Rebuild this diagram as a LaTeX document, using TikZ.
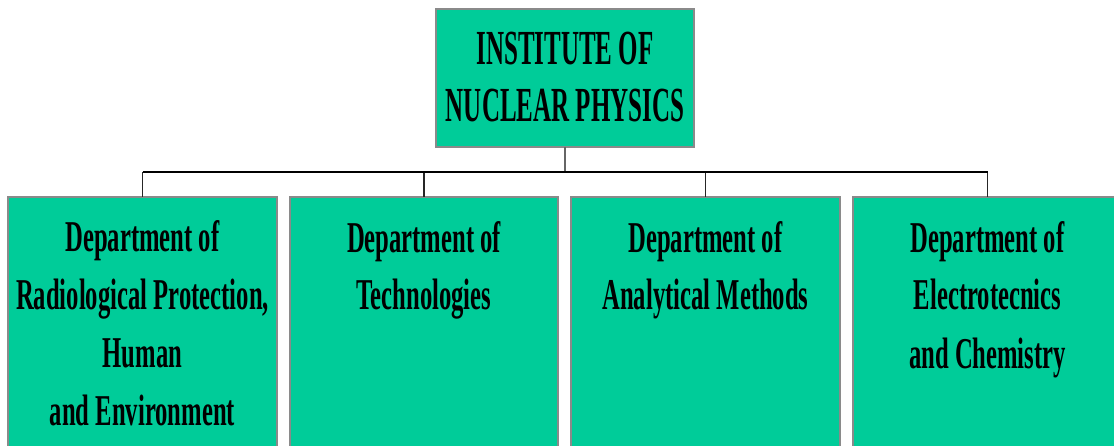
\documentclass[tikz,border=0pt]{standalone}
\usepackage{fontspec}
\newfontfamily\condfont[FakeStretch=0.56]{Liberation Serif}
\newfontfamily\condtopfont[FakeStretch=0.51]{Liberation Serif}
\definecolor{boxfill}{HTML}{00CC99}
\definecolor{boxline}{HTML}{8A8A8A}
\begin{document}
\begin{tikzpicture}[x=1pt,y=-1pt,
  box/.style={draw=boxline, line width=2pt, fill=boxfill, inner sep=0pt, outer sep=0pt, anchor=north west},
  lbl/.style={align=center, inner sep=0pt, anchor=base,
    font=\condfont\bfseries\fontsize{44}{58}\selectfont},
  toplbl/.style={align=center, inner sep=0pt, anchor=base,
    font=\condtopfont\bfseries\fontsize{49}{57}\selectfont},
  stem/.style={draw=black!60, line width=1.5pt},
  bus/.style={draw=black, line width=2pt},
  drop/.style={draw=black!85, line width=1.5pt}]
\useasboundingbox (0,0) rectangle (1114,446);
\fill[white] (0,0) rectangle (1114,446);
% boxes
\node[box, minimum width=258pt, minimum height=138pt] (top) at (436,9) {};
\node[box, minimum width=269pt, minimum height=300pt] (d1) at (8,197) {};
\node[box, minimum width=268pt, minimum height=300pt] (d2) at (290,197) {};
\node[box, minimum width=269pt, minimum height=300pt] (d3) at (571,197) {};
\node[box, minimum width=269pt, minimum height=300pt] (d4) at (853,197) {};
% labels (anchor = baseline of the last line)
\node[toplbl] (ttop) at (565,122) {INSTITUTE OF\\NUCLEAR PHYSICS};
\node[lbl] (t1) at (142.5,425) {Department of\\Radiological Protection,\\Human\\and Environment};
\node[lbl] (t2) at (424,310) {Department of\\Technologies};
\node[lbl] (t3) at (705.5,310) {Department of\\Analytical Methods};
\node[lbl] (t4) at (987.5,368) {Department of\\Electrotecnics\\and Chemistry};
% connectors
\path (top.south) ++(0,25) coordinate (j);
\draw[stem] (top.south) -- (j);
\draw[drop] (d1.north) -- (d1.north |- j);
\draw[drop] (d2.north) -- (d2.north |- j);
\draw[drop] (d3.north) -- (d3.north |- j);
\draw[drop] (d4.north) -- (d4.north |- j);
\draw[bus] (d1.north |- j) -- (d4.north |- j);
\end{tikzpicture}
\end{document}
